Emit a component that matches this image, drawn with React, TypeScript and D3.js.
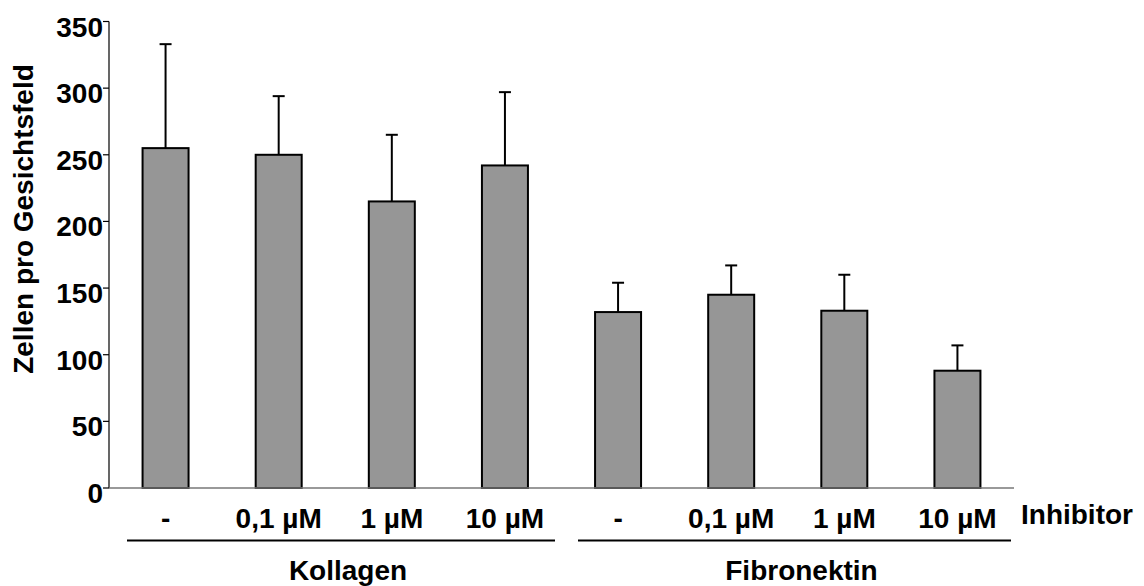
import React, { useEffect, useRef } from "react";
import * as d3 from "d3";

const doses = ["-", "0,1 µM", "1 µM", "10 µM"];
const substrates = ["Kollagen", "Fibronektin"];
const kollagenMean = [255, 250, 215, 242];
const kollagenSD = [78, 44, 50, 55];
const fibronektinMean = [132, 145, 133, 88];
const fibronektinSD = [22, 22, 27, 19];
const yTicks = [0, 50, 100, 150, 200, 250, 300, 350];

export default function App() {
  const svgRef = useRef<SVGSVGElement>(null);

  useEffect(() => {
    const svg = d3.select(svgRef.current);
    svg.selectAll("*").remove();

    const width = 1144, height = 586;
    const left = 109, right = 1014, top = 21.5, bottom = 488;
    const font = "Liberation Sans, Arial, sans-serif";
    const fs = 28;

    const rows = [
      ...doses.map((d, i) => ({ key: "k" + i, group: 0, dose: d, mean: kollagenMean[i], sd: kollagenSD[i] })),
      ...doses.map((d, i) => ({ key: "f" + i, group: 1, dose: d, mean: fibronektinMean[i], sd: fibronektinSD[i] })),
    ];

    const x = d3.scaleBand().domain(rows.map(r => r.key)).range([left, right]).padding(0);
    const y = d3.scaleLinear().domain([0, 350]).range([bottom, top]);
    const barW = 46;
    const cx = (k: string) => (x(k) as number) + x.bandwidth() / 2;

    svg.attr("width", width).attr("height", height);

    // bars
    svg.selectAll("rect.bar")
      .data(rows)
      .enter()
      .append("rect")
      .attr("x", d => cx(d.key) - barW / 2)
      .attr("y", d => y(d.mean))
      .attr("width", barW)
      .attr("height", d => y(0) - y(d.mean))
      .attr("fill", "#969696")
      .attr("stroke", "#000")
      .attr("stroke-width", 2);

    // error bars (upper only)
    svg.selectAll("line.err")
      .data(rows)
      .enter()
      .append("line")
      .attr("x1", d => cx(d.key))
      .attr("x2", d => cx(d.key))
      .attr("y1", d => y(d.mean))
      .attr("y2", d => y(d.mean + d.sd))
      .attr("stroke", "#000")
      .attr("stroke-width", 2);
    svg.selectAll("line.cap")
      .data(rows)
      .enter()
      .append("line")
      .attr("x1", d => cx(d.key) - 6)
      .attr("x2", d => cx(d.key) + 6)
      .attr("y1", d => y(d.mean + d.sd))
      .attr("y2", d => y(d.mean + d.sd))
      .attr("stroke", "#000")
      .attr("stroke-width", 2);

    // y axis
    svg.append("line")
      .attr("x1", left).attr("x2", left)
      .attr("y1", y(350)).attr("y2", y(0))
      .attr("stroke", "#000").attr("stroke-width", 1.2);
    svg.selectAll("line.ytick")
      .data(yTicks)
      .enter()
      .append("line")
      .attr("x1", left - 6).attr("x2", left)
      .attr("y1", d => y(d)).attr("y2", d => y(d))
      .attr("stroke", "#000").attr("stroke-width", 1.2);
    svg.selectAll("text.ytick")
      .data(yTicks)
      .enter()
      .append("text")
      .attr("x", left - 6)
      .attr("y", d => y(d) + 15)
      .attr("text-anchor", "end")
      .style("font-family", font)
      .style("font-weight", "bold")
      .style("font-size", fs + "px")
      .text(d => d);

    // x axis
    svg.append("line")
      .attr("x1", left).attr("x2", right)
      .attr("y1", bottom).attr("y2", bottom)
      .attr("stroke", "#777").attr("stroke-width", 1.5);

    svg.selectAll("text.xtick")
      .data(rows)
      .enter()
      .append("text")
      .attr("x", d => cx(d.key))
      .attr("y", 528)
      .attr("text-anchor", "middle")
      .style("font-family", font)
      .style("font-weight", "bold")
      .style("font-size", fs + "px")
      .text(d => d.dose);

    svg.append("text")
      .attr("x", 1021)
      .attr("y", 524)
      .style("font-family", font)
      .style("font-weight", "bold")
      .style("font-size", fs + "px")
      .text("Inhibitor");

    // group underlines and labels
    const spans = [[127, 555], [578, 1011]];
    substrates.forEach((s, i) => {
      svg.append("line")
        .attr("x1", spans[i][0]).attr("x2", spans[i][1])
        .attr("y1", 540.5).attr("y2", 540.5)
        .attr("stroke", "#000").attr("stroke-width", 1.8);
      svg.append("text")
        .attr("x", (spans[i][0] + spans[i][1]) / 2 + 7)
        .attr("y", 580)
        .attr("text-anchor", "middle")
        .style("font-family", font)
        .style("font-weight", "bold")
        .style("font-size", fs + "px")
        .text(s);
    });

    // y label
    svg.append("text")
      .attr("transform", `translate(33, 219) rotate(-90)`)
      .attr("text-anchor", "middle")
      .style("font-family", font)
      .style("font-weight", "bold")
      .style("font-size", fs + "px")
      .text("Zellen pro Gesichtsfeld");
  }, []);

  return (
    <div style={{ position: "absolute", left: 0, top: 0 }}>
      <svg ref={svgRef}></svg>
    </div>
  );
}
